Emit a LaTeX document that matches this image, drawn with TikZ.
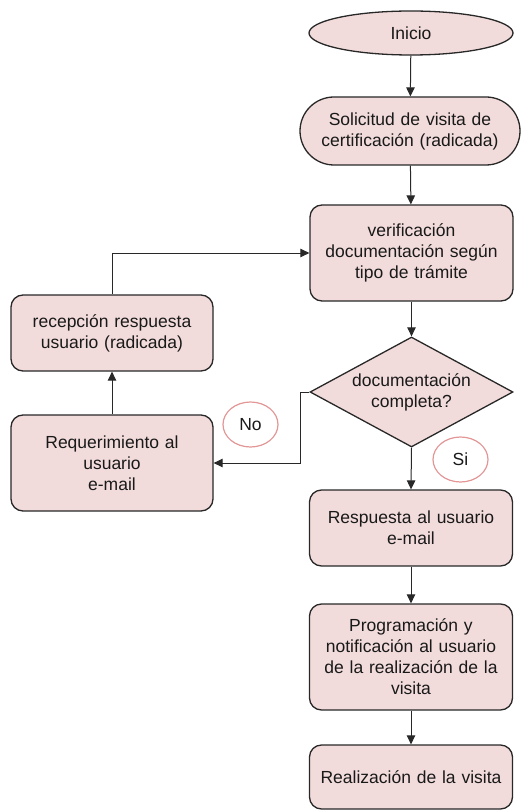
\documentclass[tikz,border=0pt]{standalone}
\usepackage{fontspec}
\setmainfont{Liberation Sans}
\usetikzlibrary{shapes.geometric,arrows.meta}
\definecolor{boxfill}{RGB}{242,220,219}
\definecolor{boxline}{RGB}{40,40,40}
\definecolor{lblline}{RGB}{226,150,150}
\begin{document}
\begin{tikzpicture}[x=1pt,y=-1pt,
  every node/.style={font=\fontsize{17.5}{21}\selectfont, text=black!90},
  proc/.style={draw=boxline, fill=boxfill, line width=1.3pt, rounded corners=12pt,
    align=center, inner sep=0pt, minimum width=203pt, text width=195pt},
  startbox/.style={ellipse, draw=boxline, fill=boxfill, line width=1.3pt,
    inner sep=0pt, minimum width=204pt, minimum height=44pt},
  decision/.style={diamond, draw=boxline, fill=boxfill, line width=1.3pt,
    inner sep=0pt, aspect=1.85, minimum width=203pt, minimum height=110pt, align=center},
  lbl/.style={ellipse, draw=lblline, fill=white, line width=1.2pt, inner sep=0pt,
    minimum width=55pt, minimum height=45pt},
  conn/.style={draw=boxline, line width=1pt, -{Triangle[length=9pt,width=8.5pt]}},
  plain/.style={draw=boxline, line width=1pt}
]
\useasboundingbox (0,0) rectangle (522,810);

\node[startbox] (ini) at (411,33) {Inicio};
\node[proc, minimum width=220pt, minimum height=68pt, rounded corners=34pt] (sol) at (410,131)
  {Solicitud de visita de\\certificación (radicada)};
\node[proc, minimum height=96pt] (ver) at (411.5,253)
  {verificación\\documentación según\\tipo de trámite};
\node[decision] (dec) at (411.5,392) {documentación\\completa?};
\node[proc, minimum width=202pt, minimum height=76pt] (rec) at (112,333)
  {recepción respuesta\\usuario (radicada)};
\node[proc, minimum width=202pt, minimum height=96pt] (req) at (112,463)
  {Requerimiento al\\usuario\\e-mail};
\node[proc, minimum height=76pt] (resp) at (411,528) {Respuesta al usuario\\e-mail};
\node[proc, minimum height=106pt] (prog) at (411,657)
  {Programación y\\notificación al usuario\\de la realización de la\\visita};
\node[proc, minimum height=64pt] (real) at (411,777) {Realización de la visita};

\node[lbl] (no) at (250.5,424.5) {No};
\node[lbl] (si) at (460.5,459.5) {Si};

\coordinate (bend) at (300,392);

\draw[conn] (ini) -- (sol);
\draw[conn] (sol) -- (ver);
\draw[conn] (ver) -- (dec);
\draw[conn] (dec.west) -- (bend) |- (req.east);
\draw[conn] (req) -- (rec);
\draw[conn] (rec.north) |- (ver.west);
\draw[conn] (dec.south) -- (resp.north);
\draw[conn] (resp) -- (prog);
\draw[conn] (prog) -- (real);
\end{tikzpicture}
\end{document}
